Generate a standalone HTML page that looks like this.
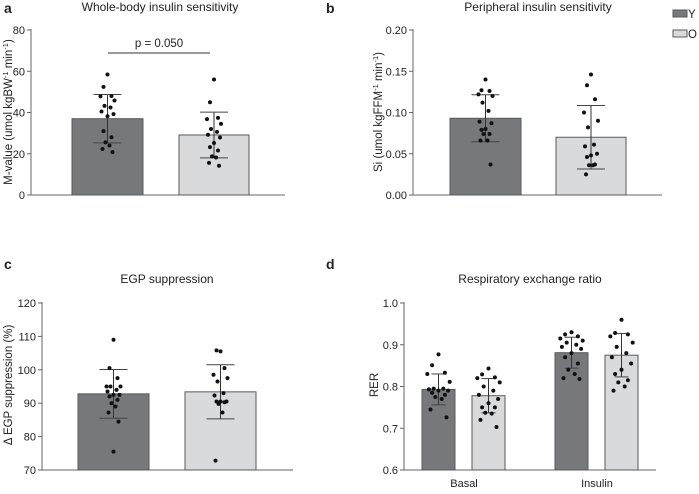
<!DOCTYPE html>
<html><head><meta charset="utf-8"><style>
body{margin:0;background:#fff;}
svg text{font-family:"Liberation Sans",Arial,sans-serif;fill:#222;}
</style></head><body>
<svg id="s" width="699" height="489" viewBox="0 0 699 489" xmlns="http://www.w3.org/2000/svg"></svg>
<script>
// ---- data ----
const groups = ["Y","O"];
const aY = [58.4,52.4,48,47.8,45.8,43.2,42.4,40.5,39.2,38.2,31,28,25.5,24,22.3,20.8];
const aO = [56,45,37.4,36.8,34.5,32,30.6,29.2,27.9,25.2,23.2,21.6,18.7,18.2,15.6,14.2];
const aMean = [37, 29.1];
const aSD = [11.7, 11.1];
const aTicks = [0,20,40,60,80];
const bY = [0.140,0.127,0.126,0.122,0.120,0.112,0.102,0.089,0.087,0.080,0.079,0.074,0.074,0.066,0.066,0.037];
const bO = [0.146,0.133,0.116,0.100,0.090,0.082,0.061,0.059,0.050,0.048,0.046,0.037,0.036,0.036,0.025];
const bMean = [0.093, 0.070];
const bSD = [0.0285, 0.0385];
const bTicks = [0,0.05,0.10,0.15,0.20];
const cY = [109,100.5,97.5,95,95,95,94,93.5,92.5,92.5,92,91,90,89,87.2,84.5,75.5];
const cO = [105.5,105.8,100.5,98.5,97.5,96.5,93,92.3,90.5,90.5,90.5,90.3,89.8,87.2,72.8];
const cMean = [92.8, 93.4];
const cSD = [7.3, 8.1];
const cTicks = [70,80,90,100,110,120];
const dCats = ["Basal","Insulin"];
const dBasalY = [0.877,0.851,0.833,0.830,0.811,0.795,0.795,0.793,0.790,0.790,0.785,0.780,0.775,0.770,0.745,0.726];
const dBasalO = [0.843,0.829,0.822,0.820,0.810,0.800,0.790,0.780,0.770,0.760,0.750,0.750,0.737,0.735,0.720,0.703];
const dInsY = [0.930,0.925,0.920,0.915,0.910,0.905,0.900,0.895,0.890,0.880,0.870,0.855,0.840,0.830,0.820,0.818];
const dInsO = [0.960,0.928,0.925,0.920,0.905,0.895,0.880,0.870,0.855,0.840,0.830,0.815,0.810,0.800,0.790];
const dMean = [0.793,0.778,0.881,0.875];
const dSD = [0.037,0.041,0.037,0.052];
const dTicks = [0.6,0.7,0.8,0.9,1.0];

const NS="http://www.w3.org/2000/svg";
const svg=document.getElementById('s');
function mk(tag,attrs,parent,name){const e=document.createElementNS(NS,tag);for(const k in attrs)e.setAttribute(k,attrs[k]);(parent||svg).appendChild(e);


return e;}
function txt(x,y,s,size,anchor,parent,name,extra){const t=mk('text',Object.assign({x:x,y:y,'font-size':size,'text-anchor':anchor||'middle'},extra||{}),parent,name);t.textContent=s;return t;}
const fills=["#77787b","#d9dadb"];

function panel(o){
  const g=mk('g',{},svg,o.name);
  const sy=v=>o.y0+(v-o.vmin)/(o.vmax-o.vmin)*(o.y1-o.y0);
  mk('line',{x1:o.ax,y1:o.y1-1,x2:o.ax,y2:o.y0,stroke:'#666','stroke-width':1},g,'y-axis');
  mk('line',{x1:o.ax,y1:o.y0,x2:o.axEnd,y2:o.y0,stroke:'#666','stroke-width':1},g,'x-axis');
  o.ticks.forEach(t=>{const y=sy(t);
    mk('line',{x1:o.ax-4,y1:y,x2:o.ax,y2:y,stroke:'#666'},g,'y-tick');
    txt(o.ax-6,y+4,o.fmt(t),11,'end',g,'y-tick-label',{fill:'#444'});});
  o.bars.forEach((b,i)=>{
    const top=sy(b.mean);
    mk('rect',{x:b.x,y:top,width:b.w,height:o.y0-top,fill:fills[b.g],stroke:'#5a5a5a','stroke-width':1},g,'bar-'+b.label);
    const cx=b.x+b.w/2;
    const hi=sy(b.mean+b.sd), lo=sy(b.mean-b.sd);
    mk('line',{x1:cx,y1:hi,x2:cx,y2:lo,stroke:'#333','stroke-width':1},g,'error-bar');
    mk('line',{x1:cx-b.cap,y1:hi,x2:cx+b.cap,y2:hi,stroke:'#444','stroke-width':1},g,'error-cap-upper');
    mk('line',{x1:cx-b.cap,y1:lo,x2:cx+b.cap,y2:lo,stroke:'#444','stroke-width':1},g,'error-cap-lower');
    const offs=[0,-4,4,-7,7,-3,3,-6,6,0,-4,4,-2,2,-5,5,0];
    b.pts.forEach((v,j)=>{
      mk('circle',{cx:cx+offs[j%offs.length]*b.jit,cy:sy(v),r:2,fill:'#111'},g,'data-point');
    });
  });
  txt(o.titleX,o.titleY,o.title,12,'middle',g,'panel-title');
  const yt=txt(0,0,'',11.5,'middle',g,'y-axis-title',{transform:`translate(${o.ytX},${o.ytY}) rotate(-90)`});
  yt.innerHTML=o.ytitle;
  txt(o.letX,o.letY,o.letter,14,'start',g,'panel-letter',{'font-weight':'bold',fill:'#000'});
  return {g,sy};
}
// a
const pa=panel({name:'panel-a',ax:31,axEnd:285,y0:195,y1:30,vmin:0,vmax:80,ticks:aTicks,fmt:t=>String(t),
 bars:[{x:72,w:71,mean:aMean[0],sd:aSD[0],pts:aY,g:0,label:'a-y',cap:14,jit:1},{x:179,w:70,mean:aMean[1],sd:aSD[1],pts:aO,g:1,label:'a-o',cap:14,jit:1}],
 title:'Whole-body insulin sensitivity',titleX:160,titleY:11,ytitle:'M-value (umol kgBW<tspan dy="-4" font-size="7.5">-1</tspan><tspan dy="4"> min</tspan><tspan dy="-4" font-size="7.5">-1</tspan><tspan dy="4">)</tspan>',ytX:12,ytY:112,letter:'a',letX:4,letY:13});
mk('line',{x1:108,y1:53,x2:210,y2:53,stroke:'#333'},pa.g,'significance-line');
txt(159,47,'p = 0.050',11.5,'middle',pa.g,'p-value-label');
// b
panel({name:'panel-b',ax:413,axEnd:662,y0:195,y1:30,vmin:0,vmax:0.2,ticks:bTicks,fmt:t=>t.toFixed(2),
 bars:[{x:450,w:71,mean:bMean[0],sd:bSD[0],pts:bY,g:0,label:'b-y',cap:14,jit:1},{x:556,w:70,mean:bMean[1],sd:bSD[1],pts:bO,g:1,label:'b-o',cap:14,jit:1}],
 title:'Peripheral insulin sensitivity',titleX:538,titleY:11,ytitle:'Si (umol kgFFM<tspan dy="-4" font-size="7.5">-1</tspan><tspan dy="4"> min</tspan><tspan dy="-4" font-size="7.5">-1</tspan><tspan dy="4">)</tspan>',ytX:382,ytY:112,letter:'b',letX:326,letY:13});
// c
panel({name:'panel-c',ax:42,axEnd:293,y0:470,y1:303,vmin:70,vmax:120,ticks:cTicks,fmt:t=>String(t),
 bars:[{x:78,w:71,mean:cMean[0],sd:cSD[0],pts:cY,g:0,label:'c-y',cap:14,jit:1},{x:185,w:71,mean:cMean[1],sd:cSD[1],pts:cO,g:1,label:'c-o',cap:14,jit:1}],
 title:'EGP suppression',titleX:167,titleY:283,ytitle:'Δ EGP suppression (%)',ytX:12,ytY:385,letter:'c',letX:4,letY:269});
// d
const dPts=[dBasalY,dBasalO,dInsY,dInsO];
const dX=[422,472,555,605];
panel({name:'panel-d',ax:404,axEnd:656,y0:470,y1:303,vmin:0.6,vmax:1.0,ticks:dTicks,fmt:t=>t.toFixed(1),
 bars:dPts.map((p,i)=>({x:dX[i],w:33,mean:dMean[i],sd:dSD[i],pts:p,g:i%2,label:'d-'+dCats[i>>1].toLowerCase()+'-'+groups[i%2].toLowerCase(),cap:7,jit:1.6})),
 title:'Respiratory exchange ratio',titleX:530,titleY:283,ytitle:'RER',ytX:378,ytY:385,letter:'d',letX:326,letY:269});
txt(464,487,dCats[0],11,'middle',svg,'x-label-basal');
txt(597,487,dCats[1],11,'middle',svg,'x-label-insulin');
// legend
groups.forEach((gname,i)=>{
  mk('rect',{x:673,y:10+i*20,width:14,height:7,fill:fills[i],stroke:'#5a5a5a'},svg,'legend-swatch-'+gname.toLowerCase());
  txt(688,18+i*20,gname,11.5,'start',svg,'legend-label-'+gname.toLowerCase());
});
</script>
</body></html>
